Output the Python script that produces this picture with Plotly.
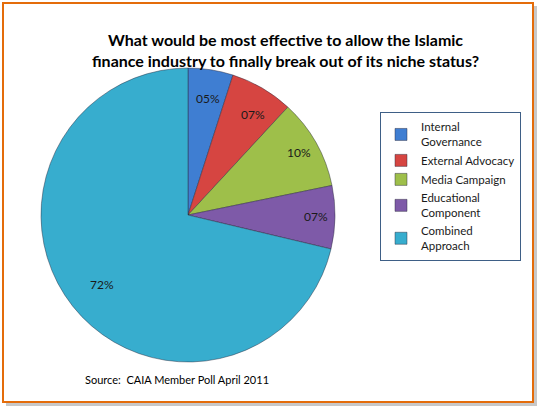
import math
import plotly.graph_objects as go

# data
categories = ["Internal<br>Governance", "External Advocacy", "Media Campaign",
              "Educational<br>Component", "Combined<br>Approach"]
shares = [5, 7, 10, 7, 72]
share_labels = ["05%", "07%", "10%", "07%", "72%"]
colors = ["#3F7ED2", "#D64541", "#9EBF4A", "#7E5AA8", "#37ADCE"]

title_text = ("What would be most effective to allow the Islamic<br>"
              "finance industry to finally break out of its niche status?")
source_text = "Source:  CAIA Member Poll April 2011"

W, H = 542, 411
cx, cy, r = 188, 215, 147


def px(x):
    return x / W


def py(y):
    return 1 - y / H


fig = go.Figure()
fig.add_trace(go.Pie(
    labels=categories,
    values=shares,
    sort=False,
    direction="clockwise",
    rotation=0,
    marker=dict(colors=colors, line=dict(color="rgba(40,40,60,0.45)", width=1)),
    textinfo="none",
    hoverinfo="skip",
    domain=dict(x=[px(cx - r), px(cx + r)], y=[py(cy + r), py(cy - r)]),
))

# slice labels placed along each slice's bisector, near the rim
total = sum(shares)
cum = 0
for v, lab in zip(shares, share_labels):
    mid = (cum + v / 2) / total * 2 * math.pi
    cum += v
    lx = cx + 0.87 * r * math.sin(mid)
    ly = cy - 0.87 * r * math.cos(mid)
    fig.add_annotation(x=px(lx), y=py(ly), xref="paper", yref="paper",
                       text=lab, showarrow=False,
                       font=dict(family="Lato", size=12, color="#1a1a1a"))

fig.add_annotation(x=px(285), y=py(28), xref="paper", yref="paper",
                   text="<b>" + title_text + "</b>", showarrow=False,
                   font=dict(family="Lato", size=16, color="#000000"))
fig.add_annotation(x=px(83), y=py(388), xref="paper", yref="paper",
                   xanchor="left", text=source_text, showarrow=False,
                   font=dict(family="Lato", size=11, color="#000000"))

# frame with shadow
fig.add_shape(type="rect", xref="paper", yref="paper", layer="below",
              x0=px(6), x1=px(537), y0=py(406), y1=py(6),
              line=dict(width=0), fillcolor="#C8C8C8")
fig.add_shape(type="rect", xref="paper", yref="paper", layer="below",
              x0=px(3), x1=px(533), y0=py(402), y1=py(3),
              line=dict(color="#E46C0A", width=2), fillcolor="#FFFFFF")

fig.update_layout(
    width=W, height=H,
    margin=dict(l=0, r=0, t=0, b=0),
    paper_bgcolor="#FFFFFF",
    plot_bgcolor="#FFFFFF",
    showlegend=True,
    legend=dict(x=px(380), y=py(112), xanchor="left", yanchor="top",
                bgcolor="#FFFFFF", bordercolor="#3E5F86", borderwidth=1,
                font=dict(family="Lato", size=11.5, color="#1a1a1a"),
                tracegroupgap=0),
)

# drop the page's default body margin so the figure sits at the top-left corner
fig.write_html("out.html", config={"displayModeBar": False},
               post_script="document.body.style.margin='0';")
